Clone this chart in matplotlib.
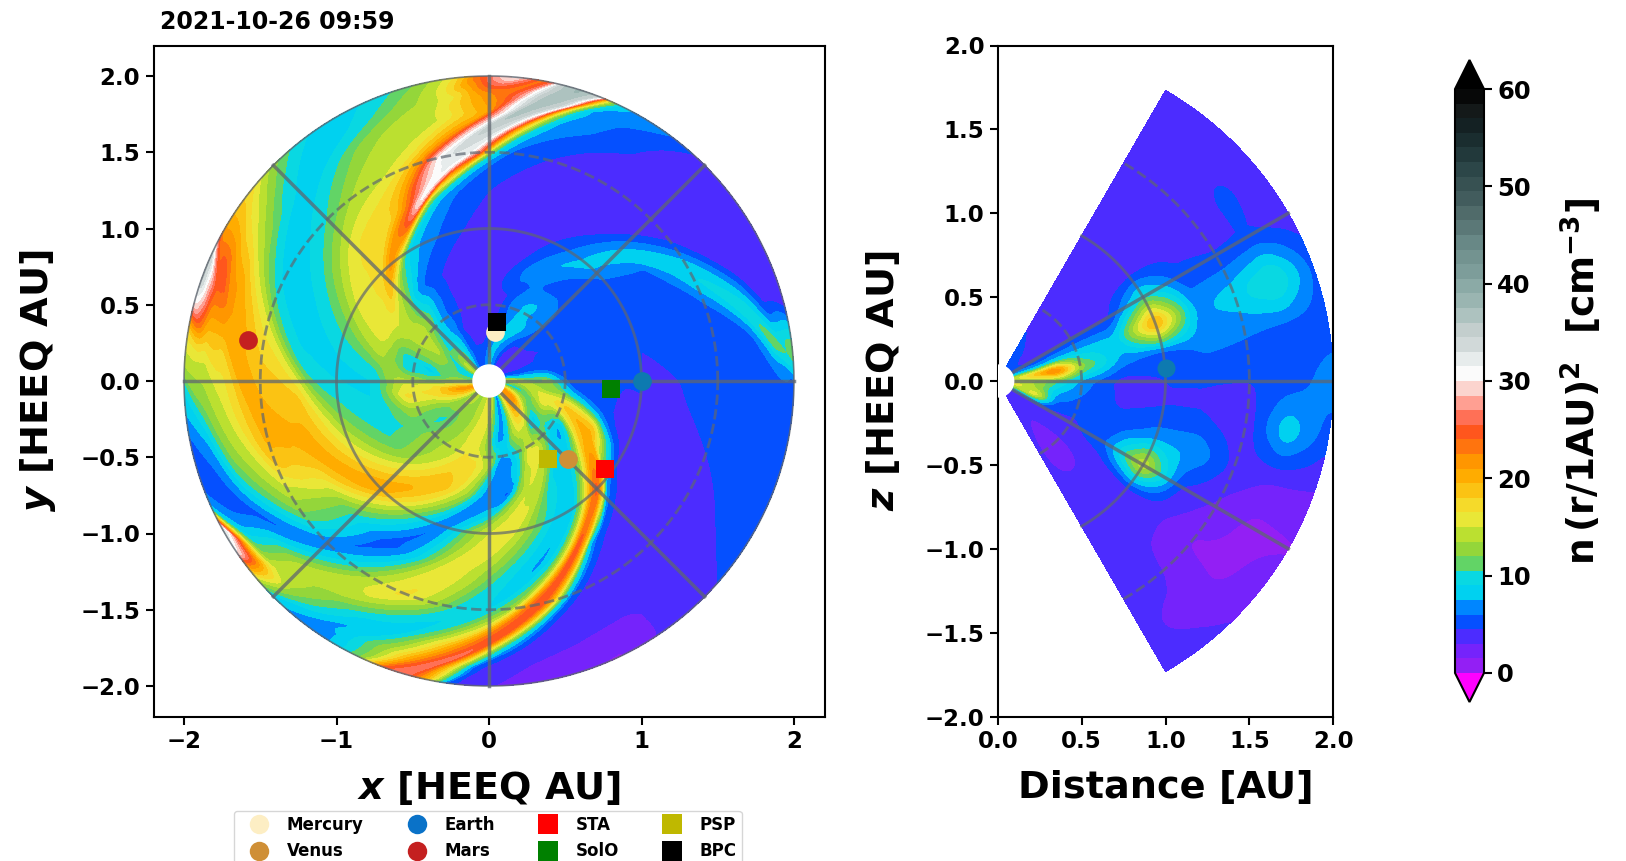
import numpy as np
import matplotlib
matplotlib.use("Agg")
import matplotlib.pyplot as plt
from matplotlib.colors import LinearSegmentedColormap

# density read off the picture along circles of the equatorial plane
# (r in AU, angle in degrees, value in n*r^2)
ring_r = [0.19, 0.385, 0.55, 0.75, 1.0, 1.25, 1.5, 1.75, 1.88, 2.0]
ring_theta = [
    [0, 8, 15, 30, 45, 60, 75, 85, 100, 115, 125, 135, 145, 155, 165, 175, 185, 195, 205, 215, 225, 240, 255, 265, 275, 285, 290, 295, 305, 315, 325, 335, 345, 355],
    [0, 5, 10, 20, 30, 40, 50, 60, 70, 80, 90, 105, 115, 125, 135, 142, 150, 160, 170, 180, 185, 192, 200, 210, 220, 230, 240, 250, 260, 268, 275, 280, 287, 293, 300, 308, 313, 320, 328, 338, 345, 352],
    [0, 8, 20, 35, 50, 60, 70, 80, 95, 110, 120, 128, 135, 145, 155, 165, 172, 182, 190, 200, 212, 225, 240, 250, 260, 270, 276, 283, 290, 298, 305, 310, 318, 325, 330, 335, 340, 345, 350, 355],
    [0, 15, 30, 45, 55, 62, 68, 75, 80, 90, 105, 115, 125, 130, 137, 145, 155, 165, 172, 178, 190, 200, 210, 220, 230, 240, 250, 255, 260, 265, 270, 280, 285, 290, 297, 303, 310, 315, 320, 325, 330, 335, 338, 342, 346, 350],
    [0, 15, 30, 40, 47, 50, 55, 60, 65, 70, 80, 90, 100, 110, 115, 120, 123, 125, 128, 130, 133, 135, 145, 150, 155, 160, 165, 170, 180, 190, 200, 210, 220, 225, 235, 240, 245, 252, 258, 264, 270, 278, 285, 292, 297, 303, 307, 310, 313, 315, 318, 320, 323, 328, 335, 345, 355],
    [0, 15, 30, 36, 38, 41, 45, 50, 55, 65, 75, 80, 90, 100, 105, 108, 110, 111, 112, 114, 117, 120, 125, 130, 135, 140, 145, 150, 155, 160, 165, 170, 175, 180, 185, 190, 200, 205, 210, 220, 225, 230, 237, 242, 248, 254, 258, 264, 270, 276, 285, 290, 293, 295, 297, 300, 302, 305, 310, 315, 330, 345],
    [0, 10, 15, 20, 24, 27, 31, 36, 40, 45, 60, 70, 75, 80, 85, 88, 90, 92, 95, 100, 103, 105, 108, 112, 117, 127, 135, 141, 150, 155, 160, 165, 170, 175, 180, 185, 190, 200, 205, 210, 215, 220, 225, 232, 240, 248, 255, 262, 270, 276, 280, 283, 286, 289, 292, 300, 315, 330, 345],
    [0, 8, 10, 15, 20, 25, 30, 45, 60, 65, 70, 75, 78, 80, 82, 85, 87, 89, 91, 95, 100, 105, 112, 120, 125, 130, 135, 140, 145, 150, 155, 160, 165, 170, 175, 180, 185, 190, 195, 200, 205, 210, 215, 220, 225, 235, 242, 250, 255, 260, 264, 268, 272, 275, 278, 285, 300, 315, 330, 345],
    [0, 5, 8, 11, 15, 18, 30, 45, 55, 60, 65, 70, 72, 73, 74, 78, 81, 83, 86, 90, 93, 97, 102, 110, 117, 122, 130, 135, 140, 147, 152, 158, 165, 170, 175, 180, 185, 190, 195, 205, 210, 214, 220, 225, 232, 238, 243, 250, 256, 260, 264, 267, 272, 285, 295, 305, 315, 330, 345],
    [0, 3, 6, 10, 13, 16, 30, 45, 48, 50, 55, 60, 64, 66.5, 67.5, 68.5, 72, 76, 77.5, 80, 83, 85, 88, 90, 92, 94, 97, 100, 103, 107, 110, 115, 120, 125, 130, 134, 137, 141, 146, 150, 152, 155, 160, 165, 167, 170, 174, 178, 181, 185, 190, 200, 205, 207, 209, 211, 214, 216, 220, 225, 235, 240, 245, 250, 254, 258, 262, 267, 275, 285, 295, 300, 305, 312, 325, 340, 350],
]
ring_n = [
    [15, 8, 5, 3.5, 4, 3.2, 7, 8, 5, 5, 7, 12, 14, 9, 10, 12, 16, 22, 18, 13, 14, 13, 14, 16, 14, 8, 6, 8, 15, 22, 22, 15, 9, 13],
    [13, 9, 6, 5, 4.5, 5, 6, 8, 8, 5, 3.2, 3.2, 4, 7, 9, 11, 14, 12, 8, 12, 16, 17, 14, 11, 10, 12, 13, 15, 16, 13, 9, 6, 8, 13, 15, 14, 9, 8, 12, 16, 16, 12],
    [5, 5, 5, 5, 6.5, 8, 7, 4, 3.2, 4, 5.5, 8, 12, 15, 13, 9, 10, 15, 17, 13, 11, 13, 14, 17, 17, 14, 7, 6, 9, 16, 16, 13, 8, 7, 9, 16, 19, 15, 9, 6],
    [5, 4.7, 4.8, 5.2, 5.5, 6.5, 7, 5.5, 4, 3.2, 3.2, 4.5, 6, 8, 13, 16, 16, 14, 11, 9, 9, 9.5, 10.5, 12.5, 16, 19, 18, 15, 13, 8, 6.5, 5.5, 12, 15, 14, 9, 8, 9, 13, 19, 21, 19, 15, 8, 5.5, 5],
    [4.5, 4.5, 4.5, 5.5, 7.5, 8, 7, 5.5, 4.5, 3.8, 3.2, 3.2, 4.5, 6, 7, 8, 10, 14, 20, 22, 19, 17, 16, 15, 13, 11, 10, 9, 9, 11, 14, 17, 20, 20.5, 15, 12, 9, 6, 9, 13, 15, 16, 13, 10, 8, 8, 12, 18, 23, 25, 20, 8, 5.5, 4, 3.5, 3.7, 4.5],
    [4.5, 4.7, 5, 6, 7.5, 8.5, 7, 4.5, 3.5, 3.2, 3.2, 3.5, 4.5, 6, 8, 13, 26, 30, 30, 25, 21, 18, 17, 17, 16, 14, 12, 10, 9, 8.5, 8.5, 9, 10.5, 15, 18, 19, 20.5, 19, 17, 12, 10, 8, 5.5, 6, 9, 14, 16, 15, 13, 10, 7, 10, 15, 20, 26, 18, 8, 5, 4, 3.5, 3.2, 4.3],
    [4.7, 4.7, 5, 6, 8, 9, 8, 5, 3.5, 3.2, 3.2, 3.5, 4.5, 5, 6, 9, 14, 25, 32, 33, 30, 26, 21, 17, 15, 13.5, 10.5, 9, 8, 9, 11, 15, 17, 18, 18, 20, 21, 19, 16, 14, 12, 9, 6, 9, 14, 17, 14, 10, 9, 13, 23, 26, 20, 10, 5, 3, 3.2, 3.8, 4.7],
    [5, 5.5, 6, 10.5, 7, 3.5, 3.2, 3.2, 4.7, 5.5, 6.5, 7.5, 14, 26, 34, 37, 30, 26, 20, 18, 15, 14, 14, 12, 10, 8.5, 8.5, 10, 12.5, 15, 19, 21, 21, 20, 17, 16, 15, 14, 13, 11, 8, 5.5, 8, 12, 15, 12, 9, 8, 12, 17, 22, 26, 12, 7, 4.5, 3.2, 3.2, 3.8, 4.6, 4.8],
    [5, 8, 12, 8, 4.5, 3.5, 3.2, 3.2, 4.7, 5.5, 6.5, 7.5, 14, 24, 34, 38, 34, 28, 24, 22, 20, 16, 14, 12, 9.5, 8.5, 8.5, 10, 13, 17, 21, 26, 22, 19, 15, 13.5, 12, 9, 6.5, 5, 7, 10, 15, 14, 10, 7, 9, 14, 22, 27, 14, 5, 3.2, 2.8, 2, 3.2, 4.2, 4.8, 4.8],
    [5.5, 10, 12, 9, 5, 3.5, 3.2, 3.2, 4.5, 5, 6.5, 7, 8, 14, 22, 34, 38, 36, 26, 23, 28, 31, 29, 26, 24, 20, 16, 14, 12.5, 11, 10, 9, 8.5, 8.5, 10, 12, 14, 17, 19, 21, 24, 35, 36, 31, 25, 18, 15, 13, 9.5, 8, 6, 5, 8, 22, 35, 33, 31, 25, 15, 8, 6, 8, 12, 25, 27, 20, 5, 3.5, 2.5, 2, 1.2, 2.5, 3.2, 4.2, 4.8, 4.8, 5],
]
# how fast each arm winds (deg per AU), by the angle where it crosses r = 1
arm_theta = [0, 50, 90, 128, 175, 222, 252, 278, 315, 345]
arm_pitch_out = [48, 45, 52, 57, 52, 72, 55, 62, 60, 52]
arm_pitch_in = [55, 74, 60, 60, 40, 72, 65, 72, 47, 50]

# density in the meridional plane, rows = distance, columns = latitude
merid_r = [0.1, 0.25, 0.35, 0.5, 0.75, 1.0, 1.25, 1.5, 1.75, 2.0]
merid_lat = [-60, -50, -40, -30, -20, -10, 0, 10, 20, 30, 40, 50, 60]
merid_n = [
    [4, 3.2, 3.2, 4, 12, 16, 14, 14, 8, 5, 5, 5, 5],
    [3.2, 3.2, 3.2, 4, 17, 13, 13, 20, 7, 4, 3.5, 4.5, 5],
    [3.2, 2.8, 3.2, 4, 6, 8, 11, 25, 8, 4, 3.2, 3.5, 4.5],
    [3.2, 2.2, 3.2, 4, 5, 6, 7, 13, 8, 4.5, 3.2, 3.2, 3.2],
    [3.2, 3.2, 3.2, 6, 5, 4.2, 3.7, 7, 8, 4, 3.2, 3.2, 3.2],
    [3.2, 3.2, 3.5, 16, 7, 4.5, 4.5, 5, 22, 10, 3.5, 3.8, 3.2],
    [3.2, 3.2, 3.2, 4.5, 7.5, 4.5, 4.5, 6.5, 7, 5, 3.5, 3.2, 3.2],
    [3.2, 3.2, 1.3, 2.7, 4, 3.3, 4.5, 6, 8.5, 4.5, 3.8, 3.2, 3.2],
    [3.2, 2.7, 1, 1, 3, 9, 5, 5, 11.5, 4.5, 4.8, 3.5, 3.2],
    [3.2, 3.2, 2.8, 1.3, 2.8, 5, 7, 5, 5.5, 3.5, 3.2, 3.2, 3.2],
]

# bodies: x, y in AU
planet_names = ["Mercury", "Venus", "Earth", "Mars"]
planet_x = [0.04, 0.52, 1.0, -1.58]
planet_y = [0.32, -0.51, 0.0, 0.27]
planet_colors = ["#fdeec4", "#cf8f36", "#0a72c8", "#c42020"]
craft_names = ["STA", "SolO", "PSP", "BPC"]
craft_x = [0.76, 0.8, 0.39, 0.05]
craft_y = [-0.58, -0.05, -0.51, 0.39]
craft_colors = ["#ff0000", "#008000", "#bfb800", "#000000"]
earth_side = (1.0, 0.08)

# colours of the bar
cbar_vals = [0, 1, 2, 3, 3.8, 4.4, 6, 7, 8, 9.5, 10.5, 12, 14, 16, 18, 20, 22, 25, 27, 29, 30, 31, 33, 35, 37, 40, 44, 48, 52, 56, 58, 60]
cbar_cols = ["#9a1cf2", "#9020f5", "#7a22fa", "#4f2aff", "#4c2cff", "#0a40ff", "#0060ff", "#00a0ff", "#00d0f0", "#00d8f0", "#40d890", "#80d040", "#b8e030",
             "#f0e838", "#f8d020", "#ffb000", "#ff9000", "#ff5020", "#ff8070", "#ffd0c8", "#e8e8e8", "#ffffff",
             "#d8e0e0", "#c8d0d0", "#a8c0bc", "#88a8a4", "#6a8a88", "#4a6464", "#2a4446", "#142426", "#141818", "#000000"]

plt.rcParams.update({"font.size": 16.5, "font.weight": "bold", "axes.labelweight": "bold",
                     "axes.linewidth": 1.5, "xtick.major.width": 1.5, "ytick.major.width": 1.5,
                     "xtick.major.size": 6, "ytick.major.size": 6})

W, H = 1626, 861
def box(x0, y0, x1, y1):
    return [x0 / W, 1 - y1 / H, (x1 - x0) / W, (y1 - y0) / H]

def blur(a, n, axis, mode):
    pad = [(0, 0), (0, 0)]
    pad[axis] = (n, n)
    b = np.pad(a, pad, mode=mode)
    k = np.ones(n) / n
    b = np.apply_along_axis(lambda v: np.convolve(v, k, mode="same"), axis, b)
    return np.take(b, range(n, n + a.shape[axis]), axis=axis)

cmap = LinearSegmentedColormap.from_list("dens", [(v / 60, c) for v, c in zip(cbar_vals, cbar_cols)], N=256)
cmap.set_under("#ff00ff")
cmap.set_over("#000000")
levels = np.arange(0, 60.1, 1.5)

fig = plt.figure(figsize=(W / 100, H / 100), dpi=100)
ax1 = fig.add_axes(box(153.5, 45.5, 824.5, 716.5))
ax2 = fig.add_axes(box(997.5, 45.5, 1333.5, 716.5))
cax = fig.add_axes(box(1455, 60, 1484, 702))

# equatorial panel: each arm is followed from ring to ring
psi = np.arange(0, 360, 0.5)
p_out = np.interp(psi, arm_theta, arm_pitch_out, period=360)
p_in = np.interp(psi, arm_theta, arm_pitch_in, period=360)
def wind(r, p_out, p_in):
    return np.where(r >= 1, p_out, p_in) * (r - 1)
by_ring = np.array([np.interp(psi - wind(r, p_out, p_in), th, n, period=360)
                    for r, th, n in zip(ring_r, ring_theta, ring_n)])
rr = np.arange(0.1, 2.005, 0.01)
field = np.array([np.interp(rr, ring_r, by_ring[:, j]) for j in range(len(psi))])
field = blur(blur(field, 3, 0, "wrap"), 5, 1, "edge")
psi = np.append(psi, 360)
p_out = np.append(p_out, p_out[0])
p_in = np.append(p_in, p_in[0])
field = np.vstack([field, field[0]])
R, P = np.meshgrid(rr, psi)
T = np.radians(P - wind(R, p_out[:, None], p_in[:, None]))
cf = ax1.contourf(R * np.cos(T), R * np.sin(T), field, levels=levels, cmap=cmap, extend="both")

# meridional panel
lat = np.radians(np.arange(-60, 60.5, 0.5))
rm = np.arange(0.1, 2.005, 0.01)
merid_n = np.array(merid_n, dtype=float)
by_lat = np.array([np.interp(np.degrees(lat), merid_lat, row) for row in merid_n])
merid = np.array([np.interp(rm, merid_r, by_lat[:, j]) for j in range(len(lat))])
merid = blur(blur(merid, 9, 0, "edge"), 9, 1, "edge")
R2, L2 = np.meshgrid(rm, lat)
ax2.contourf(R2 * np.cos(L2), R2 * np.sin(L2), merid, levels=levels, cmap=cmap, extend="both")

# grid of the heliosphere
gc = "#5f6670"
t = np.linspace(0, 2 * np.pi, 400)
for rg, ls in zip([0.5, 1.0, 1.5], ["--", "-", "--"]):
    ax1.plot(rg * np.cos(t), rg * np.sin(t), ls, color=gc, lw=2, alpha=0.7)
ax1.plot(2 * np.cos(t), 2 * np.sin(t), "-", color=gc, lw=1.2, alpha=0.8)
for a in np.radians(np.arange(0, 360, 45)):
    ax1.plot([0, 2 * np.cos(a)], [0, 2 * np.sin(a)], "-", color=gc, lw=2.5, alpha=0.75)
ax1.add_patch(plt.Circle((0, 0), 0.105, color="white", zorder=3))

tl = np.radians(np.linspace(-60, 60, 200))
for rg, ls in zip([0.5, 1.0, 1.5], ["--", "-", "--"]):
    ax2.plot(rg * np.cos(tl), rg * np.sin(tl), ls, color=gc, lw=2, alpha=0.7)
for a in np.radians([-30, 0, 30]):
    ax2.plot([0, 2 * np.cos(a)], [0, 2 * np.sin(a)], "-", color=gc, lw=2.5, alpha=0.75)
ax2.add_patch(plt.Circle((0, 0), 0.095, color="white", zorder=3))
ax2.plot(earth_side[0], earth_side[1], "o", color="#0d7ab0", ms=13, mew=0, zorder=4)

# bodies
for name, x, y, c in zip(planet_names, planet_x, planet_y, planet_colors):
    if name == "Earth":
        c = "#0d7ab0"
    ax1.plot(x, y, "o", color=c, ms=13.5, mew=0, zorder=4)
for name, x, y, c in zip(craft_names, craft_x, craft_y, craft_colors):
    ax1.plot(x, y, "s", color=c, ms=13.5, mew=0, zorder=5)

# legend is filled column by column
handles = []
labels = []
for name, c in zip(planet_names, planet_colors):
    handles.append(plt.Line2D([], [], ls="", marker="o", color=c, ms=14, mew=0))
    labels.append(name)
for name, c in zip(craft_names, craft_colors):
    handles.append(plt.Line2D([], [], ls="", marker="s", color=c, ms=14, mew=0))
    labels.append(name)
fig.legend(handles, labels, ncol=4, loc="upper left", bbox_to_anchor=(234 / W, 1 - 811 / H),
           borderaxespad=0, fontsize=12, labelspacing=0.5, columnspacing=2.0, handletextpad=0.45,
           handlelength=2.4, borderpad=0.3)

ax1.set_xlim(-2.2, 2.2)
ax1.set_ylim(-2.2, 2.2)
ax1.set_xticks([-2, -1, 0, 1, 2], ["\u22122", "\u22121", "0", "1", "2"])
ax1.set_yticks(np.arange(-2, 2.01, 0.5))
ax1.set_aspect("equal")
ax1.set_xlabel(r"$\mathbfit{x}$ [HEEQ AU]", fontsize=27.5, labelpad=11.5)
ax1.set_ylabel(r"$\mathbfit{y}$ [HEEQ AU]", fontsize=27.5, labelpad=16)
ax1.set_title("2021-10-26 09:59", loc="left", fontsize=17, fontweight="bold", pad=12, x=0.01)

ax2.set_xlim(0, 2)
ax2.set_ylim(-2, 2)
ax2.set_xticks(np.arange(0, 2.01, 0.5))
ax2.set_yticks(np.arange(-2, 2.01, 0.5))
ax2.set_aspect("equal")
ax2.set_xlabel("Distance [AU]", fontsize=27.5, labelpad=12.5)
ax2.set_ylabel(r"$\mathbfit{z}$ [HEEQ AU]", fontsize=27.5, labelpad=16)

cb = fig.colorbar(cf, cax=cax, extend="both", extendfrac=29 / 583, ticks=[0, 10, 20, 30, 40, 50, 60])
cb.ax.tick_params(length=6, width=1.5, labelsize=17.5)
cb.set_label(r"$\mathbf{n\,(r/1AU)^2}$  $\mathbf{[cm^{-3}]}$", fontsize=27, labelpad=20)

fig.savefig("out.png", dpi=100)
